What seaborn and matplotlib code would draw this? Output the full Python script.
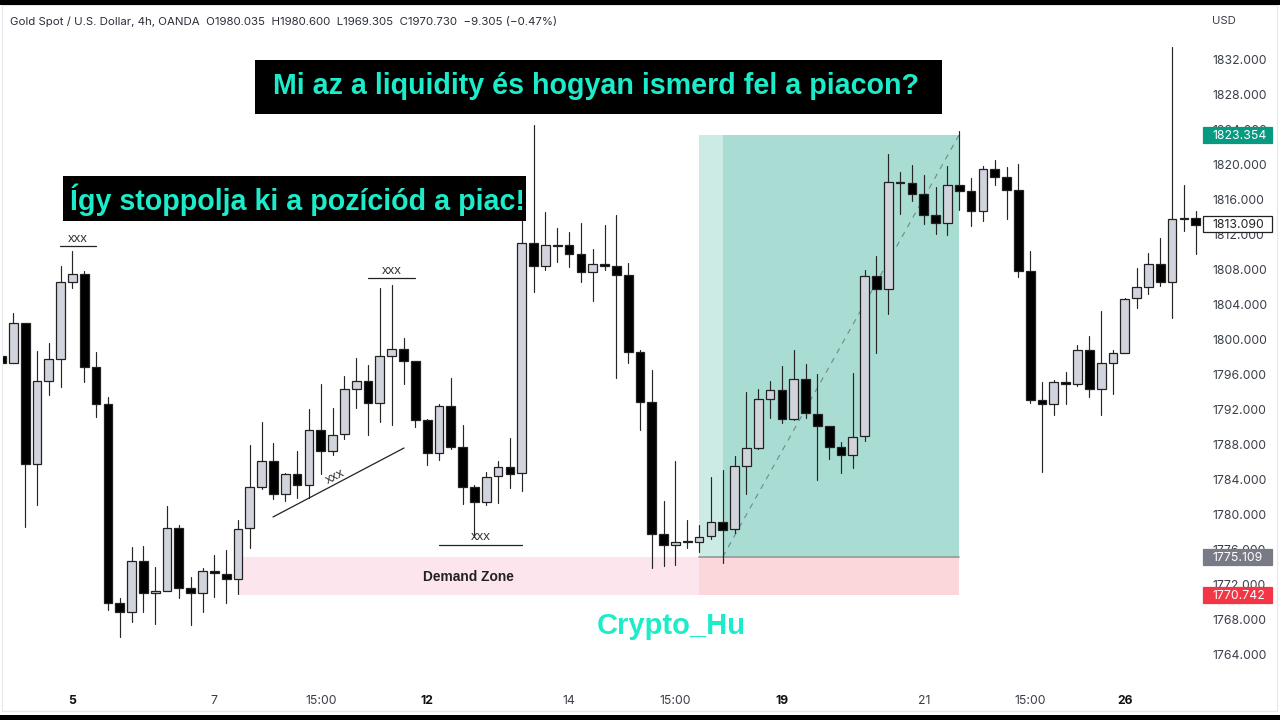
import matplotlib
matplotlib.use("Agg")
import matplotlib.pyplot as plt
import matplotlib.transforms as mtrans
from matplotlib.patches import Rectangle
import numpy as np
import pandas as pd
import seaborn as sns

opens = [1798.05,1797.22,1801.86,1785.71,1795.23,1797.75,1806.51,1807.43,1796.83,1792.60,
1769.86,1768.80,1774.63,1770.93,1771.23,1778.36,1771.54,1771.00,1773.45,1773.14,
1772.53,1778.36,1783.12,1786.09,1782.28,1784.53,1783.35,1789.60,1787.20,1789.11,
1794.25,1795.20,1792.72,1798.02,1798.82,1797.48,1790.74,1786.93,1792.34,1787.62,
1783.05,1781.37,1784.34,1785.40,1784.65,1811.00,1808.37,1810.77,1810.71,1809.68,
1807.69,1808.60,1808.34,1807.35,1798.48,1792.83,1777.68,1776.49,1776.88,1776.83,
1777.48,1779.12,1778.25,1785.48,1787.57,1793.17,1794.13,1790.85,1795.39,1791.46,
1790.05,1787.65,1786.71,1788.88,1807.23,1805.68,1817.94,1817.83,1816.53,1814.17,
1813.29,1817.60,1816.88,1814.59,1819.39,1818.51,1816.99,1807.77,1793.06,1792.60,
1795.05,1794.82,1798.71,1794.32,1797.22,1798.36,1804.65,1805.91,1808.53,1806.55,
1813.80,1813.80]
closes = [1797.22,1801.86,1785.71,1795.16,1797.68,1806.48,1807.39,1796.83,1792.60,1769.86,
1768.80,1774.63,1770.93,1771.20,1778.36,1771.54,1771.00,1773.45,1773.22,1772.53,
1778.32,1783.12,1786.09,1782.28,1784.53,1783.35,1789.56,1787.20,1789.03,1794.25,
1795.16,1792.68,1798.02,1798.82,1797.48,1790.74,1786.93,1792.34,1787.62,1783.05,
1781.37,1784.26,1785.40,1784.57,1811.00,1808.37,1810.71,1810.63,1809.68,1807.69,
1808.60,1808.34,1807.35,1798.48,1792.83,1777.68,1776.45,1776.83,1776.78,1777.40,
1779.12,1778.20,1785.48,1787.54,1793.11,1794.13,1790.85,1795.39,1791.51,1790.05,
1787.69,1786.71,1788.80,1807.23,1805.68,1817.94,1817.86,1816.57,1814.20,1813.29,
1817.63,1816.88,1814.59,1819.39,1818.51,1816.99,1807.77,1793.06,1792.60,1795.05,
1794.85,1798.71,1794.32,1797.22,1798.36,1804.60,1805.91,1808.53,1806.55,1813.75,
1813.75,1813.06]
highs = [1798.05,1803.00,1801.86,1798.63,1799.57,1808.34,1810.02,1807.80,1798.48,1793.40,
1770.40,1776.19,1776.37,1773.91,1780.91,1778.77,1772.76,1773.79,1775.28,1775.88,
1779.31,1787.85,1790.57,1788.15,1784.72,1787.16,1792.00,1794.82,1792.15,1795.77,
1797.79,1797.03,1805.86,1806.13,1800.08,1797.48,1790.90,1792.57,1795.51,1790.17,
1783.31,1784.80,1786.09,1788.68,1815.31,1824.45,1814.48,1812.68,1812.19,1813.29,
1810.28,1813.06,1814.20,1808.65,1798.74,1796.45,1781.52,1786.09,1779.31,1778.74,
1784.19,1785.03,1786.63,1793.94,1794.25,1795.20,1796.91,1798.74,1797.14,1795.96,
1790.05,1788.23,1796.15,1807.88,1809.48,1821.11,1819.08,1819.85,1818.71,1817.40,
1819.80,1823.80,1818.36,1819.80,1820.42,1819.65,1819.96,1810.02,1795.08,1795.28,
1796.23,1799.31,1800.34,1803.20,1798.71,1804.72,1808.08,1809.83,1811.57,1833.40,
1817.56,1814.59]
lows = [1797.22,1797.22,1778.55,1780.99,1793.63,1794.48,1805.83,1795.12,1791.05,1769.03,
1765.91,1767.65,1768.83,1767.43,1771.23,1770.36,1767.35,1768.80,1770.48,1769.79,
1770.85,1776.11,1782.82,1781.68,1781.52,1781.79,1781.79,1784.57,1786.71,1788.53,
1792.15,1789.03,1790.55,1790.17,1794.89,1789.91,1785.56,1786.13,1787.39,1781.14,
1777.40,1781.03,1781.22,1783.00,1782.66,1805.37,1807.88,1808.80,1808.26,1806.55,
1804.34,1807.88,1795.51,1797.22,1789.60,1773.86,1774.09,1774.20,1776.08,1775.65,
1777.17,1774.36,1777.79,1782.28,1787.46,1791.00,1790.36,1790.74,1791.00,1783.88,
1786.32,1784.72,1785.29,1788.37,1798.43,1802.85,1814.25,1815.77,1813.11,1812.00,
1811.92,1814.77,1812.95,1813.48,1817.56,1813.75,1807.12,1792.72,1784.83,1791.35,
1792.53,1794.59,1793.37,1791.28,1793.71,1798.36,1803.57,1805.14,1806.02,1802.43,
1812.34,1809.68]

y_ticks = [1832,1828,1824,1820,1816,1812,1808,1804,1800,1796,1792,1788,1784,1780,1776,1772,1768,1764]
x_tick_idx = [6,18,27,36,48,57,66,78,87,95]
x_tick_lab = ["5","7","15:00","12","14","15:00","19","21","15:00","26"]
x_tick_bold = ["5","12","19","26"]

entry_price, target_price, stop_price, last_price = 1775.109, 1823.354, 1770.742, 1813.090
tool_start, tool_mid, tool_end = 59, 61, 81
zone_start = 20.1

HEADER = "Gold Spot / U.S. Dollar, 4h, OANDA  O1980.035  H1980.600  L1969.305  C1970.730  \u22129.305 (\u22120.47%)"
TITLE = "Mi az a liquidity és hogyan ismerd fel a piacon?"
SUB = "Így stoppolja ki a pozíciód a piac!"
TURQ = "#1cecc9"
UI = ["Inter", "DejaVu Sans"]
ARIAL = ["Liberation Sans", "DejaVu Sans"]

sns.set_theme(style="white")
fig = plt.figure(figsize=(12.8, 7.2), dpi=100, facecolor="white")
ax = fig.add_axes([0, 0, 1, 1], facecolor="white")

df = pd.DataFrame({"i": range(len(opens)), "o": opens, "h": highs, "l": lows, "c": closes})
df["bottom"] = df[["o", "c"]].min(axis=1)
df["height"] = (df["o"] - df["c"]).abs()
up = df[df.c > df.o]
down = df[df.c <= df.o]
wicks = pd.concat([df[["i", "h"]].rename(columns={"h": "price"}),
                   df[["i", "l"]].rename(columns={"l": "price"})]).sort_values("i")

sns.lineplot(data=wicks, x="i", y="price", units="i", estimator=None, sort=False,
             color="#262626", lw=0.85, zorder=3, ax=ax, legend=False)
for sub, col in ((up, "#d1d4dc"), (down, "#000000")):
    sns.barplot(data=sub, x="i", y="height", bottom=sub["bottom"].values, native_scale=True,
                width=0.74, color=col, saturation=1, errorbar=None, edgecolor="#222222",
                linewidth=0.9, zorder=4, ax=ax)

# scale: bar i sits at 1.5 + 11.824 i px; price scale 8.75 px per unit
ax.set_xlim(-1.5 / 11.824, (1280 - 1.5) / 11.824)
ax.set_ylim(1838.743 - 720 / 8.75, 1838.743)
ax.set_xlabel(""); ax.set_ylabel("")
ax.grid(False)
for s in ax.spines.values():
    s.set_visible(False)

# Position tool and demand zone
ax.add_patch(Rectangle((zone_start, stop_price), tool_start - zone_start, entry_price - stop_price,
                       fc="#fde5ee", ec="none", zorder=1))
ax.add_patch(Rectangle((tool_start, stop_price), tool_end - tool_start, entry_price - stop_price,
                       fc="#fbd6da", ec="none", zorder=1))
ax.add_patch(Rectangle((tool_start, entry_price), tool_mid - tool_start, target_price - entry_price,
                       fc="#cdebe5", ec="none", zorder=1))
ax.add_patch(Rectangle((tool_mid, entry_price), tool_end - tool_mid, target_price - entry_price,
                       fc="#a9dcd2", ec="none", zorder=1))
ax.plot([tool_start, tool_end], [entry_price, entry_price], color="#8d9b99", lw=1.2, zorder=2)
ax.plot([tool_mid, tool_end], [entry_price, target_price], color="#6f8a86", lw=0.8,
        ls=(0, (5, 5)), zorder=2)

# Price axis
ax.yaxis.tick_right()
ax.set_yticks(y_ticks)
ax.set_yticklabels([f"{v:.3f}" for v in y_ticks], family=UI, fontsize=8.8, color="#3a3e48", ha="left")
ax.tick_params(axis="y", length=0, pad=-48.9, labelright=True, labelleft=False)
ax.set_xticks(x_tick_idx)
ax.set_xticklabels(x_tick_lab, family=UI, fontsize=8.8, color="#3a3e48")
for t in ax.get_xticklabels():
    if t.get_text() in x_tick_bold:
        t.set_fontweight("bold")
        t.set_color("#111111")
ax.tick_params(axis="x", length=0, pad=-18)

# pixel overlay (origin top-left)
px = mtrans.Affine2D().scale(1, -1).translate(0, 720)
def rect(x0, y0, x1, y1, **kw):
    ax.add_patch(Rectangle((x0, y0), x1 - x0, y1 - y0, transform=px, clip_on=False, **kw))
def label(x, y, s, **kw):
    kw.setdefault("va", "center")
    ax.text(x, y, s, transform=px, clip_on=False, **kw)

rect(0, 5, 2.5, 715, fc="white", ec="none", zorder=5)
rect(2, 5, 1277, 711, fc="none", ec="#e6e8ee", lw=0.8, zorder=5)
rect(0, 0, 1280, 4.5, fc="black", ec="none", zorder=20)
rect(0, 715, 1280, 720, fc="black", ec="none", zorder=20)

rect(255, 60, 942, 114, fc="black", ec="none", zorder=10)
label(596, 86.5, TITLE, ha="center", family=ARIAL, weight="bold", fontsize=20.6, color=TURQ, zorder=11)
rect(63, 176, 526, 221, fc="black", ec="none", zorder=10)
label(297, 200, SUB, ha="center", family=ARIAL, weight="bold", fontsize=20.6, color=TURQ, zorder=11)
label(671.5, 625.5, "Crypto_Hu", ha="center", family=ARIAL, weight="bold", fontsize=21, color=TURQ, zorder=11)

label(10, 21.5, HEADER, ha="left", family=UI, fontsize=8.26, color="#2a2e39", zorder=12)
label(1212, 20.5, "USD", ha="left", family=UI, fontsize=8.2, color="#3a3e48", zorder=12)

label(468, 577, "Demand Zone", ha="center", family=ARIAL, weight="bold", fontsize=9.9, color="#222222", zorder=6)
for (xa, xb, yl, tx, ty) in ((60, 96, 246, 78, 239), (368, 415, 278, 391.5, 271), (439, 522, 544.5, 480.5, 537)):
    ax.plot([xa, xb], [yl, yl], transform=px, color="#222222", lw=0.9, zorder=6)
    label(tx, ty, "xxx", ha="center", family=ARIAL, fontsize=9.5, color="#333333", zorder=6)
ax.plot([273, 404], [517, 448], transform=px, color="#222222", lw=0.9, zorder=6)
label(335, 477, "xxx", ha="center", rotation=27, rotation_mode="anchor", family=ARIAL, fontsize=9.5, color="#333333", zorder=6)

# Price badges
tr = mtrans.blended_transform_factory(px, ax.transData)
h = 8 / 8.75
for price, fc, ec, tc in ((target_price, "#089981", "#089981", "white"),
                          (entry_price, "#787b86", "#787b86", "white"),
                          (stop_price, "#f23645", "#f23645", "white"),
                          (last_price, "white", "#222222", "#222222")):
    ax.add_patch(Rectangle((1202.5, price - h), 69.5, 2 * h, transform=tr, fc=fc, ec=ec, lw=0.9,
                           clip_on=False, zorder=8))
    ax.text(1212, price - 1 / 8.75, f"{price:.3f}", transform=tr, family=UI, fontsize=8.8, color=tc,
            ha="left", va="center", zorder=9)

fig.savefig("out.png", dpi=100)
